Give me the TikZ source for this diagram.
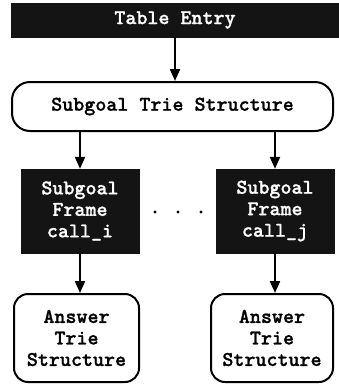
\documentclass[tikz,border=0pt]{standalone}
\usepackage{fontspec}
\newfontfamily\courfont{lmmonolt10-bold.otf}[FakeBold=1.0]
\usetikzlibrary{arrows.meta}
\definecolor{boxblack}{HTML}{141414}
\tikzset{
  lbl/.style={font=\courfont\fontsize{21pt}{21.5pt}\selectfont, align=center, inner sep=0pt},
  darkbox/.style={lbl, rectangle, fill=boxblack, draw=boxblack, text=white},
  roundbox/.style={lbl, rectangle, draw=black, line width=2pt, fill=white, text=black},
  flow/.style={line width=2.2pt, -{Triangle[length=12pt,width=10pt]}},
  dot/.style={circle, fill=black, inner sep=0pt, minimum size=3.2pt}
}
\begin{document}
\begin{tikzpicture}[x=1pt,y=-1pt]
  \useasboundingbox (0,0) rectangle (339,384);
  \fill[white] (0,0) rectangle (339,384);

  % top table entry bar
  \node[darkbox, minimum width=328pt, minimum height=34pt] (entry) at (175,20) {Table Entry};

  % subgoal trie
  \node[roundbox, rounded corners=18pt, minimum width=321pt, minimum height=49pt] (trie) at (172.5,106.5) {Subgoal Trie Structure};

  % subgoal frames
  \node[darkbox, minimum width=118pt, minimum height=84pt] (fi) at (80,211) {Subgoal\\Frame\\call\_i};
  \node[darkbox, minimum width=118pt, minimum height=84pt] (fj) at (275,211) {Subgoal\\Frame\\call\_j};

  % dots between frames
  \node[dot] (d1) at (155,212) {};
  \node[dot] (d2) at (178,212) {};
  \node[dot] (d3) at (201,212) {};

  % answer tries
  \node[roundbox, rounded corners=14pt, minimum width=125pt, minimum height=88pt] (ai) at (76.5,338) {Answer\\Trie\\Structure};
  \node[roundbox, rounded corners=14pt, minimum width=122pt, minimum height=88pt] (aj) at (272,338) {Answer\\Trie\\Structure};

  % connectors
  \draw[flow] (entry.south) -- (entry.south |- trie.north);
  \draw[flow] (fi.north |- trie.south) -- (fi.north);
  \draw[flow] (fj.north |- trie.south) -- (fj.north);
  \draw[flow] (fi.south) -- (fi.south |- ai.north);
  \draw[flow] (fj.south) -- (fj.south |- aj.north);
\end{tikzpicture}
\end{document}
